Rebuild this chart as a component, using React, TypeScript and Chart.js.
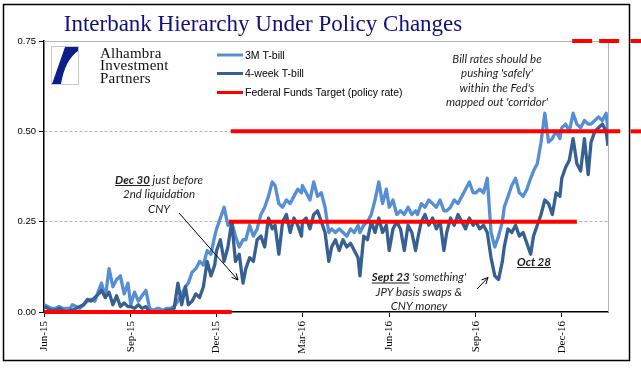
import React, { useEffect, useRef } from "react";
import { Chart, registerables } from "chart.js";

Chart.register(...registerables);

// ---------- data ----------
const dates = [
  "2015-06-01","2015-06-05","2015-06-09","2015-06-13","2015-06-17","2015-06-21","2015-06-25","2015-06-29",
  "2015-07-01","2015-07-05","2015-07-09","2015-07-13","2015-07-17","2015-07-21","2015-07-25","2015-07-29",
  "2015-08-01","2015-08-05","2015-08-09","2015-08-13","2015-08-17","2015-08-21","2015-08-25","2015-08-29",
  "2015-09-01","2015-09-05","2015-09-09","2015-09-13","2015-09-17","2015-09-21","2015-09-25","2015-09-29",
  "2015-10-01","2015-10-05","2015-10-09","2015-10-13","2015-10-17","2015-10-21","2015-10-25","2015-10-29",
  "2015-11-01","2015-11-05","2015-11-09","2015-11-13","2015-11-17","2015-11-21","2015-11-25","2015-11-29",
  "2015-12-01","2015-12-05","2015-12-09","2015-12-13","2015-12-17","2015-12-21","2015-12-25","2015-12-29",
  "2016-01-01","2016-01-05","2016-01-09","2016-01-13","2016-01-17","2016-01-21","2016-01-25","2016-01-29",
  "2016-02-01","2016-02-05","2016-02-09","2016-02-13","2016-02-17","2016-02-21","2016-02-25","2016-02-29",
  "2016-03-01","2016-03-05","2016-03-09","2016-03-13","2016-03-17","2016-03-21","2016-03-25","2016-03-29",
  "2016-04-01","2016-04-05","2016-04-09","2016-04-13","2016-04-17","2016-04-21","2016-04-25","2016-04-29",
  "2016-05-01","2016-05-05","2016-05-09","2016-05-13","2016-05-17","2016-05-21","2016-05-25","2016-05-29",
  "2016-06-01","2016-06-05","2016-06-09","2016-06-13","2016-06-17","2016-06-21","2016-06-25","2016-06-29",
  "2016-07-01","2016-07-05","2016-07-09","2016-07-13","2016-07-17","2016-07-21","2016-07-25","2016-07-29",
  "2016-08-01","2016-08-05","2016-08-09","2016-08-13","2016-08-17","2016-08-21","2016-08-25","2016-08-29",
  "2016-09-01","2016-09-05","2016-09-09","2016-09-13","2016-09-17","2016-09-21","2016-09-25","2016-09-29",
  "2016-10-01","2016-10-05","2016-10-09","2016-10-13","2016-10-17","2016-10-21","2016-10-25","2016-10-29",
  "2016-11-01","2016-11-05","2016-11-09","2016-11-13","2016-11-17","2016-11-21","2016-11-25","2016-11-29",
  "2016-12-01","2016-12-05","2016-12-09","2016-12-13","2016-12-17","2016-12-21","2016-12-25","2016-12-29",
  "2017-01-01","2017-01-05","2017-01-09","2017-01-13","2017-01-17","2017-01-19",
];

const bill3m = [
  0.02,0.015,0.01,0.01,0.015,0.01,0.01,0.01,
  0.02,0.015,0.01,0.02,0.03,0.035,0.03,0.06,
  0.08,0.04,0.12,0.07,0.09,0.10,0.05,0.08,
  0.02,0.055,0.03,0.045,0.06,0.01,0.005,0.01,
  0.01,0.005,0.01,0.01,0.015,0.03,0.05,0.07,
  0.08,0.11,0.12,0.14,0.13,0.17,0.16,0.21,
  0.23,0.26,0.29,0.24,0.25,0.21,0.18,0.20,
  0.20,0.24,0.21,0.23,0.27,0.29,0.32,0.36,
  0.35,0.30,0.29,0.31,0.30,0.32,0.34,0.33,
  0.35,0.33,0.31,0.36,0.32,0.33,0.29,0.22,
  0.23,0.22,0.23,0.22,0.21,0.23,0.22,0.24,
  0.22,0.24,0.25,0.27,0.31,0.36,0.30,0.34,
  0.29,0.31,0.27,0.28,0.27,0.29,0.27,0.28,
  0.27,0.30,0.29,0.31,0.30,0.29,0.31,0.28,
  0.28,0.29,0.31,0.30,0.32,0.34,0.36,0.33,
  0.33,0.34,0.33,0.37,0.22,0.18,0.21,0.25,
  0.29,0.32,0.35,0.37,0.33,0.32,0.34,0.37,
  0.39,0.41,0.47,0.55,0.47,0.48,0.50,0.48,
  0.51,0.52,0.50,0.55,0.52,0.51,0.53,0.52,
  0.52,0.53,0.54,0.53,0.55,0.50,
];

const bill4w = [
  0.015,0.01,0.005,0.005,0.01,0.005,0.0,0.005,
  0.005,0.01,0.015,0.02,0.035,0.03,0.04,0.05,
  0.06,0.04,0.055,0.02,0.045,0.015,0.025,0.015,
  0.015,0.01,0.02,0.01,0.015,0.0,0.0,0.0,
  0.0,0.0,0.005,0.005,0.01,0.08,0.02,0.07,
  0.02,0.03,0.05,0.04,0.07,0.14,0.10,0.13,
  0.17,0.20,0.14,0.18,0.25,0.14,0.16,0.08,
  0.12,0.15,0.14,0.20,0.21,0.18,0.26,0.23,
  0.24,0.16,0.25,0.27,0.22,0.26,0.24,0.21,
  0.25,0.26,0.23,0.27,0.28,0.25,0.22,0.14,
  0.18,0.20,0.17,0.20,0.18,0.19,0.17,0.15,
  0.10,0.21,0.20,0.25,0.22,0.26,0.22,0.24,
  0.17,0.23,0.25,0.23,0.17,0.24,0.22,0.17,
  0.20,0.25,0.27,0.24,0.26,0.23,0.25,0.17,
  0.22,0.26,0.24,0.27,0.25,0.23,0.26,0.24,
  0.25,0.23,0.24,0.22,0.15,0.10,0.09,0.14,
  0.18,0.23,0.22,0.24,0.21,0.22,0.19,0.16,
  0.21,0.24,0.27,0.31,0.30,0.27,0.33,0.32,
  0.37,0.40,0.42,0.48,0.41,0.39,0.48,0.38,
  0.47,0.50,0.51,0.52,0.50,0.46,
];

// Federal funds target segments (policy rate corridor)
const ffZeroDates = ["2015-06-01", "2015-12-17"];
const ffZeroValues = [0, 0];
const ffLowerDates = ["2015-12-14", "2016-12-17"];
const ffLowerValues = [0.25, 0.25];
const ffUpperDates = ["2015-12-16", "2017-02-01"];
const ffUpperValues = [0.5, 0.5];
const ffUpperTailDates = ["2017-02-12", "2017-02-23"];
const ffNewUpperDates = ["2016-12-12", "2017-02-01"];
const ffNewUpperValues = [0.75, 0.75];
const ffNewUpperTailDates = ["2017-02-12", "2017-02-23"];

const axisStart = "2015-06-01";
const axisEnd = "2017-01-19";
const tickDates = ["2015-06-01","2015-09-01","2015-12-01","2016-03-01","2016-06-01","2016-09-01","2016-12-01"];
const tickLabels = ["Jun-15","Sep-15","Dec-15","Mar-16","Jun-16","Sep-16","Dec-16"];
const yMin = 0;
const yMax = 0.75;
const yStep = 0.25;

const titleText = "Interbank Hierarchy Under Policy Changes";
const legendLabels = ["3M T-bill", "4-week T-bill", "Federal Funds Target (policy rate)"];
const logoLines = ["Alhambra", "Investment", "Partners"];
const noteBill = ["Bill rates should be", "pushing 'safely'", "within the Fed's", "mapped out 'corridor'"];
const noteDec = [[["Dec 30", 1], [" just before", 0]], [["2nd liquidation", 0]], [["CNY", 0]]];
const noteSep = [[["Sept 23", 1], [" 'something'", 0]], [["JPY basis swaps &", 0]], [["CNY money", 0]]];
const noteOct = [[["Oct 28", 1]]];

// ---------- helpers ----------
const DAY = 86400000;
function dayOf(s: string): number {
  const [y, m, d] = s.split("-").map(Number);
  const [y0, m0, d0] = axisStart.split("-").map(Number);
  return (Date.UTC(y, m - 1, d) - Date.UTC(y0, m0 - 1, d0)) / DAY;
}
function pts(ds: string[], vs: number[]) {
  return ds.map((d, i) => ({ x: dayOf(d), y: vs[i] }));
}

const C3M = "#558ed5";
const C4W = "#376092";
const CRED = "#ff0000";
const NOTE_COLOR = "#1e1e1e";
const NOTE_FONT = "Lato";

function richLine(ctx: CanvasRenderingContext2D, segs: any[], cx: number, base: number, size: number) {
  const fonts = segs.map((s) => `italic ${s[1] ? "bold " : ""}${size}px ${NOTE_FONT}`);
  const widths = segs.map((s, i) => {
    ctx.font = fonts[i];
    return ctx.measureText(s[0]).width;
  });
  const total = widths.reduce((a, b) => a + b, 0);
  let x = cx - total / 2;
  ctx.textAlign = "left";
  ctx.textBaseline = "alphabetic";
  segs.forEach((s, i) => {
    ctx.font = fonts[i];
    ctx.fillText(s[0], x, base);
    if (s[1]) {
      const w = ctx.measureText(s[0].trimEnd()).width;
      ctx.fillRect(x, base + 1.5, w, 1);
    }
    x += widths[i];
  });
}

function arrow(ctx: CanvasRenderingContext2D, x1: number, y1: number, x2: number, y2: number) {
  const a = Math.atan2(y2 - y1, x2 - x1);
  const h = 7;
  ctx.beginPath();
  ctx.moveTo(x1, y1);
  ctx.lineTo(x2, y2);
  ctx.moveTo(x2 - h * Math.cos(a - 0.45), y2 - h * Math.sin(a - 0.45));
  ctx.lineTo(x2, y2);
  ctx.lineTo(x2 - h * Math.cos(a + 0.45), y2 - h * Math.sin(a + 0.45));
  ctx.stroke();
}

const framePlugin = {
  id: "frame",
  beforeDatasetsDraw(chart: any) {
    const { ctx, chartArea: a } = chart;
    ctx.save();
    ctx.strokeStyle = "#b4b4b4";
    ctx.lineWidth = 1;
    ctx.beginPath();
    ctx.moveTo(a.left, a.top + 0.5);
    ctx.lineTo(a.right + 0.5, a.top + 0.5);
    ctx.lineTo(a.right + 0.5, a.bottom);
    ctx.stroke();
    ctx.restore();
  },
  afterDraw(chart: any) {
    const ctx: CanvasRenderingContext2D = chart.ctx;
    ctx.save();
    // outer frame
    ctx.strokeStyle = "#000";
    ctx.lineWidth = 1.5;
    ctx.strokeRect(3.5, 4.5, 626, 356);

    // title
    ctx.fillStyle = "#10107a";
    ctx.font = "23px 'Liberation Serif'";
    ctx.textAlign = "center";
    ctx.textBaseline = "alphabetic";
    ctx.fillText(titleText, 263, 30.5);

    // logo
    ctx.strokeStyle = "#c8c8c8";
    ctx.lineWidth = 1;
    ctx.strokeRect(51.5, 46.5, 27, 38);
    ctx.fillStyle = "#0c1e8c";
    ctx.beginPath();
    ctx.moveTo(65, 47);
    ctx.lineTo(78, 47);
    ctx.lineTo(78, 51);
    ctx.quadraticCurveTo(65, 60, 61, 84);
    ctx.lineTo(52, 84);
    ctx.closePath();
    ctx.fill();
    ctx.fillStyle = "#111";
    ctx.font = "15px 'Liberation Serif'";
    (ctx as any).letterSpacing = "0.2px";
    ctx.textAlign = "left";
    logoLines.forEach((t, i) => ctx.fillText(t, 100, 58 + i * 12.4));
    (ctx as any).letterSpacing = "0px";

    // legend
    const legendColors = [C3M, C4W, CRED];
    const legendY = [55, 73.5, 92.5];
    legendLabels.forEach((t, i) => {
      ctx.strokeStyle = legendColors[i];
      ctx.lineWidth = 3;
      ctx.beginPath();
      ctx.moveTo(217, legendY[i]);
      ctx.lineTo(243, legendY[i]);
      ctx.stroke();
      ctx.fillStyle = "#000";
      ctx.font = "10.5px 'Liberation Sans'";
      ctx.textAlign = "left";
      ctx.fillText(t, 245, legendY[i] + 3.8);
    });

    // notes
    ctx.fillStyle = NOTE_COLOR;
    noteBill.forEach((t, i) => richLine(ctx, [[t, 0]], 497, 62.5 + i * 14.5, 11.5));
    noteDec.forEach((l, i) => richLine(ctx, l, 159, 183.5 + i * 14.5, 11.5));
    noteSep.forEach((l, i) => richLine(ctx, l, 419, 281 + i * 14.5, 11.5));
    noteOct.forEach((l) => richLine(ctx, l, 534, 265.5, 11.5));

    // arrows
    ctx.strokeStyle = "#000";
    ctx.lineWidth = 1;
    arrow(ctx, 179, 213, 238, 280);
    arrow(ctx, 477, 289, 488, 277.5);
    ctx.restore();
  },
};

export default function App() {
  const ref = useRef<HTMLCanvasElement>(null);
  useEffect(() => {
    if (!ref.current) return;
    const line = (label: string, data: any, color: string, width: number, order: number, extra: any = {}) => ({
      label, data, borderColor: color, backgroundColor: color, borderWidth: width,
      pointRadius: 0, tension: 0, fill: false, order, borderJoinStyle: "round", ...extra,
    });
    const red = { clip: false, borderCapStyle: "butt" };
    const chart = new Chart(ref.current, {
      type: "line",
      data: {
        datasets: [
          line("Federal Funds Target (policy rate)", pts(ffZeroDates, ffZeroValues), CRED, 4, 0, red),
          line("ff lower", pts(ffLowerDates, ffLowerValues), CRED, 4, 0, red),
          line("ff upper", pts(ffUpperDates, ffUpperValues), CRED, 4, 0, red),
          line("ff upper tail", pts(ffUpperTailDates, ffUpperValues), CRED, 4, 0, red),
          line("ff new upper", pts(ffNewUpperDates, ffNewUpperValues), CRED, 4, 0, { ...red, borderDash: [20, 7] }),
          line("ff new upper tail", pts(ffNewUpperTailDates, ffNewUpperValues), CRED, 4, 0, red),
          line("4-week T-bill", pts(dates, bill4w), C4W, 3.3, 1),
          line("3M T-bill", pts(dates, bill3m), C3M, 3.3, 2),
        ],
      },
      options: {
        animation: false,
        responsive: false,
        devicePixelRatio: 1,
        layout: { padding: { left: 0, top: 41, right: 33, bottom: 15 } },
        plugins: { legend: { display: false }, tooltip: { enabled: false }, title: { display: false } },
        scales: {
          x: {
            type: "linear",
            min: dayOf(axisStart),
            max: dayOf(axisEnd),
            afterBuildTicks: (s: any) => {
              s.ticks = tickDates.map((d) => ({ value: dayOf(d) }));
            },
            afterFit: (s: any) => { s.height = 48; },
            ticks: {
              autoSkip: false,
              maxRotation: 90,
              minRotation: 90,
              padding: 4,
              color: "#000",
              font: { family: "'Liberation Serif'", size: 11 },
              callback: (v: any) => {
                const i = tickDates.findIndex((d) => dayOf(d) === v);
                return i >= 0 ? tickLabels[i] : "";
              },
            },
            grid: { drawOnChartArea: false, drawTicks: true, tickLength: 5, tickColor: "#000", color: "#000" },
            border: { color: "#000", width: 1.5 },
          },
          y: {
            min: yMin,
            max: yMax,
            afterFit: (s: any) => { s.width = 44; },
            ticks: {
              stepSize: yStep,
              padding: 3,
              color: "#000",
              font: { family: "'Liberation Sans'", size: 9.5 },
              callback: (v: any) => Number(v).toFixed(2),
            },
            grid: {
              color: (c: any) => (c.tick && c.tick.value === 0 ? "rgba(0,0,0,0)" : "#b4b4b4"),
              lineWidth: 1,
              tickLength: 5,
              tickColor: "#000",
            },
            border: { color: "#000", width: 1.5, dash: [3, 2] },
          },
        },
      },
      plugins: [framePlugin],
    } as any);
    return () => chart.destroy();
  }, []);
  return (
    <div style={{ position: "absolute", left: 0, top: 0, width: 641, height: 375, background: "#fff" }}>
      <canvas ref={ref} width={641} height={375} style={{ width: 641, height: 375, display: "block" }} />
    </div>
  );
}
